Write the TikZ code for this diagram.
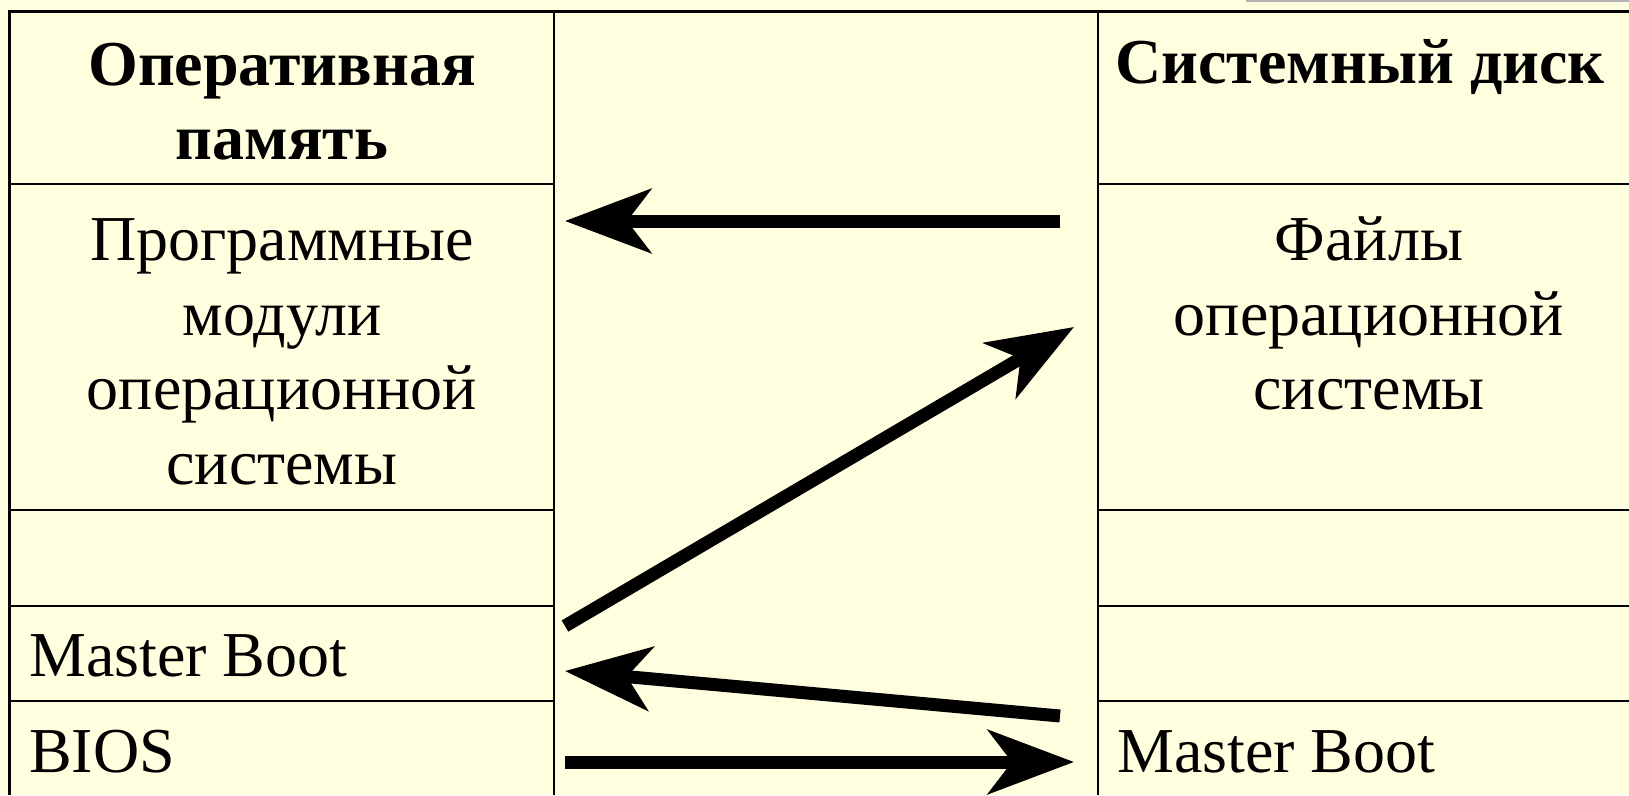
\documentclass[tikz,border=0pt]{standalone}
\usepackage{fontspec}
\setmainfont{Liberation Serif}
\usetikzlibrary{arrows.meta}
\definecolor{bg}{HTML}{FFFFE0}
\definecolor{strip}{HTML}{B4B4B4}
\tikzset{
  grid/.style={line width=2.6pt, black},
  txt/.style={font=\fontsize{64}{75}\selectfont, inner sep=0pt, anchor=base},
  hdr/.style={font=\fontsize{64}{75}\selectfont\bfseries, inner sep=0pt, anchor=base},
  bigarrow/.style={line width=13pt, -{Stealth[length=86pt,width=64pt,inset=24pt]}},
}
\begin{document}
\begin{tikzpicture}[x=1pt,y=-1pt]
\useasboundingbox (0,0) rectangle (1629,795);
\fill[bg] (0,0) rectangle (1629,795);
\fill[strip] (1246,0) rectangle (1629,1.8);
% table grid
\draw[grid] (9.5,795) -- (9.5,11.5) -- (1629,11.5);
\draw[grid] (554,11.5) -- (554,795);
\draw[grid] (1098,11.5) -- (1098,795);
\foreach \yy in {184,510,606,701} {
  \draw[grid] (9.5,\yy) -- (554,\yy);
  \draw[grid] (1098,\yy) -- (1629,\yy);
}
% headers
\node[hdr] (h1a) at (282,85) {Оперативная};
\node[hdr] (h1b) at (282,159) {память};
\node[hdr] (h3) at (1360,83) {Системный диск};
% left column
\node[txt] (pm1) at (282,260) {Программные};
\node[txt] (pm2) at (282,335) {модули};
\node[txt] (pm3) at (282,409) {операционной};
\node[txt] (pm4) at (282,484) {системы};
\node[txt, anchor=base west] (mbl) at (29,676) {Master Boot};
\node[txt, anchor=base west] (bios) at (29,772) {BIOS};
% right column
\node[txt] (f1) at (1369,260) {Файлы};
\node[txt] (f2) at (1369,335) {операционной};
\node[txt] (f3) at (1369,409) {системы};
\node[txt, anchor=base west] (mbr) at (1117,772) {Master Boot};
% arrow end points
\coordinate (a1s) at (1060,221);
\coordinate (a1e) at (565,221);
\coordinate (a2s) at (565,626);
\coordinate (a2e) at (1074,327);
\coordinate (a3s) at (1060,716);
\coordinate (a3e) at (565,671);
\coordinate (a4s) at (565,762);
\coordinate (a4e) at (1074,762);
\draw[bigarrow] (a1s) -- (a1e);
\draw[bigarrow] (a2s) -- (a2e);
\draw[bigarrow] (a3s) -- (a3e);
\draw[bigarrow] (a4s) -- (a4e);
\end{tikzpicture}
\end{document}
